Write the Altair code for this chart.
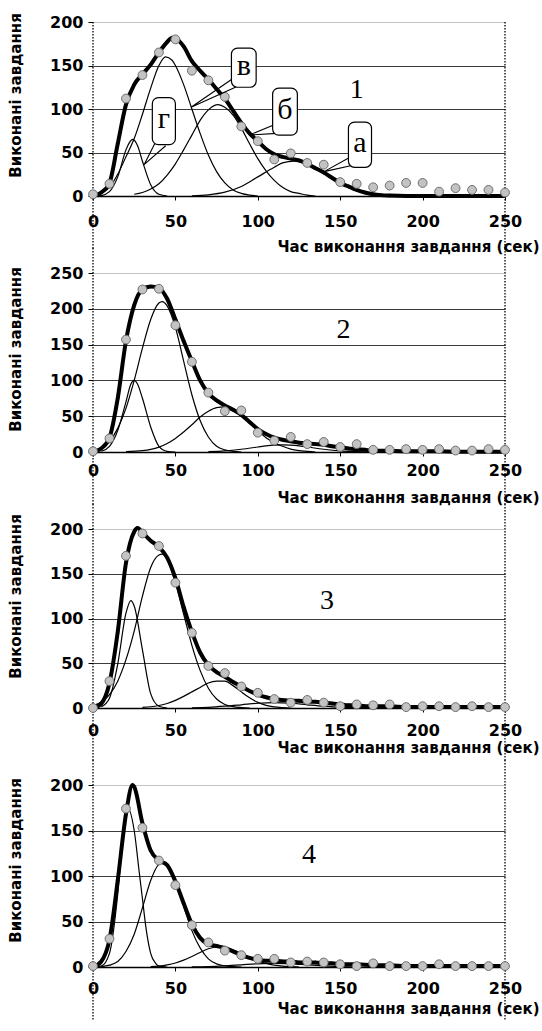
import altair as alt
import pandas as pd

# ---------------- data ----------------
X_OBS = list(range(0, 251, 10))
OBS_1 = [2, 14, 112, 139, 165, 180, 144, 133, 114, 80, 63, 42, 49, 38, 36, 16, 14, 10, 12, 15, 15, 5, 9, 7, 7, 4]
OBS_2 = [1, 19, 157, 227, 228, 177, 126, 83, 57, 58, 27, 16, 21, 11, 14, 7, 11, 3, 3, 4, 3, 4, 2, 2, 4, 3]
OBS_3 = [0, 30, 170, 195, 181, 140, 84, 47, 39, 24, 17, 10, 6, 9, 6, 2, 4, 3, 4, 1, 2, 2, 1, 2, 1, 1]
OBS_4 = [1, 31, 174, 153, 117, 90, 46, 27, 18, 13, 9, 9, 5, 6, 5, 3, 1, 4, 1, 1, 1, 3, 1, 1, 1, 1]

SUM_X_1 = [0, 5, 10, 15, 20, 25, 30, 35, 40, 45, 48, 50, 55, 60, 65, 70, 75, 80, 85, 90, 95, 100, 105, 110, 115,
           120, 125, 130, 135, 140, 145, 150, 155, 160, 165, 170, 175, 180, 190, 200, 210, 220, 230, 240, 250]
SUM_Y_1 = [0, 4, 15, 60, 105, 128, 140, 151, 165, 177, 182, 181, 172, 155, 144, 134, 123, 112, 98, 84, 72, 63, 54,
           48, 45, 43, 41, 37, 32, 27, 21, 15, 11, 7, 4, 2, 1, 0.5, 0, 0, 0, 0, 0, 0, 0]
SUM_X_2 = [0, 5, 10, 15, 20, 25, 30, 35, 40, 45, 50, 55, 60, 65, 70, 75, 80, 85, 90, 95, 100, 105, 110, 115, 120,
           125, 130, 135, 140, 145, 150, 155, 160, 165, 170, 180, 190, 200, 210, 220, 230, 240, 250]
SUM_Y_2 = [0, 5, 20, 75, 155, 205, 227, 231, 229, 214, 185, 155, 127, 100, 82, 72, 65, 59, 52, 42, 32, 25, 20, 17,
           15, 13, 12, 11, 10, 8, 7, 5, 4, 3, 2, 1.5, 1, 1, 1, 0.5, 0.5, 0.5, 0.5]
SUM_X_3 = [0, 5, 10, 15, 20, 25, 27, 30, 35, 40, 45, 50, 55, 60, 65, 70, 75, 80, 85, 90, 95, 100, 105, 110, 115,
           120, 125, 130, 135, 140, 145, 150, 155, 160, 165, 170, 180, 190, 200, 210, 220, 230, 240, 250]
SUM_Y_3 = [0, 5, 28, 85, 162, 197, 201, 196, 187, 180, 168, 145, 113, 85, 62, 48, 40, 35, 29, 24, 19, 15, 12, 10, 9,
           8, 8, 7, 7, 6, 5, 4, 3, 3, 2, 2, 2, 1, 1, 1, 1, 1, 1, 1]
SUM_X_4 = [0, 5, 10, 15, 20, 24, 25, 30, 35, 40, 45, 50, 55, 60, 65, 70, 75, 80, 85, 90, 95, 100, 105, 110, 115,
           120, 125, 130, 135, 140, 145, 150, 160, 170, 180, 190, 200, 210, 220, 230, 240, 250]
SUM_Y_4 = [0, 6, 30, 95, 168, 200, 198, 158, 128, 117, 112, 94, 70, 47, 32, 25, 23, 21, 17, 13, 10, 8, 7, 7, 6, 6,
           5, 5, 5, 4, 4, 3, 3, 2, 2, 1, 1, 1, 1, 1, 1, 1]

# component curves (а, б, в, г)
P1_G_X = [2, 5, 10, 15, 20, 22, 24, 27, 30, 35, 40, 45]
P1_G_Y = [0, 0.5, 5, 22, 53, 61, 65, 58, 40, 13, 2, 0]
P1_V_X = [5, 10, 15, 20, 25, 30, 35, 40, 44, 48, 50, 55, 60, 65, 70, 75, 80, 85, 90, 95, 100]
P1_V_Y = [3, 10, 25, 45, 66, 94, 124, 150, 160, 156, 150, 128, 100, 72, 47, 28, 15, 7, 3, 1, 0]
P1_B_X = [25, 30, 35, 40, 45, 50, 55, 60, 65, 70, 76, 80, 85, 90, 95, 100, 105, 110, 115, 120, 125, 130, 135]
P1_B_Y = [2, 4, 8, 14, 24, 37, 53, 70, 87, 99, 105, 102, 93, 78, 60, 43, 29, 18, 10, 5, 3, 1, 0]
P1_A_X = [60, 70, 80, 90, 100, 110, 115, 122, 130, 140, 150, 160, 170, 180, 190]
P1_A_Y = [0.3, 1.4, 4.4, 11, 22, 33, 38, 40, 37, 27, 15, 7, 2, 0.5, 0]

P2_G_X = [5, 10, 15, 20, 23, 25, 27, 30, 35, 40, 45, 50]
P2_G_Y = [1, 8, 30, 70, 95, 100, 95, 75, 35, 8, 1, 0]
P2_V_X = [0, 5, 10, 15, 20, 25, 30, 35, 40, 42, 45, 50, 55, 60, 65, 70, 75, 80, 85, 90]
P2_V_Y = [2, 6, 15, 33, 61, 100, 145, 185, 208, 210, 204, 174, 127, 80, 44, 21, 8, 3, 1, 0]
P2_B_X = [20, 30, 35, 40, 45, 50, 55, 60, 65, 70, 75, 80, 85, 90, 95, 100, 105, 110, 115, 120, 125, 130, 135]
P2_B_Y = [0.4, 1.8, 3.6, 6.8, 12, 19, 28, 38, 49, 57, 62, 63, 58, 50, 40, 30, 20, 13, 8, 4, 2, 1, 0]
P2_A_X = [70, 80, 90, 100, 105, 110, 115, 120, 125, 130, 140, 150, 160, 170]
P2_A_Y = [0.4, 1.5, 3.8, 7, 8.6, 9.6, 10, 9.6, 8.6, 7, 3.8, 1.5, 0.4, 0]

P3_G_X = [5, 10, 15, 20, 23, 25, 30, 35, 40, 45]
P3_G_Y = [1.3, 11, 49, 106, 120, 114, 65, 16, 2, 0]
P3_V_X = [0, 5, 10, 15, 20, 25, 30, 35, 40, 42, 45, 50, 55, 60, 65, 70, 75, 80, 85, 90, 95]
P3_V_Y = [2.6, 6.6, 15, 30, 54, 86, 125, 157, 171, 172, 166, 140, 105, 70, 42, 22, 10, 4, 1.5, 0.5, 0]
P3_B_X = [30, 35, 40, 45, 50, 55, 60, 65, 70, 75, 80, 85, 90, 95, 100, 105, 110, 115, 120]
P3_B_Y = [0.7, 1.4, 2.8, 5, 8.5, 13, 18, 23, 28, 30, 30, 25, 18, 11.5, 6.3, 3, 1.2, 0.4, 0]
P3_A_X = [60, 70, 80, 90, 100, 110, 120, 130, 140, 150, 160, 170]
P3_A_Y = [0.3, 0.8, 2, 3.6, 5.3, 6, 5.3, 3.6, 2, 0.8, 0.3, 0]

P4_G_X = [0, 5, 10, 15, 18, 21, 25, 28, 30, 32, 35, 38, 40, 45]
P4_G_Y = [0, 1, 15, 80, 140, 175, 150, 105, 75, 45, 15, 4, 1, 0]
P4_V_X = [5, 10, 15, 20, 25, 30, 35, 40, 42, 45, 50, 55, 60, 65, 70, 75, 80, 85, 90]
P4_V_Y = [0.5, 2, 6, 17, 36, 65, 95, 113, 115, 112, 94, 67, 40, 21, 9, 3.4, 1.2, 0.4, 0]
P4_B_X = [35, 40, 45, 50, 55, 60, 65, 70, 75, 80, 85, 90, 95, 100, 105, 110, 115, 120, 125]
P4_B_Y = [0.4, 1, 2.3, 4.4, 7.5, 11.6, 16, 20, 22, 21.6, 19, 15, 10.7, 6.8, 3.9, 2, 0.9, 0.4, 0]
P4_A_X = [60, 70, 80, 90, 100, 110, 120, 130, 140, 150, 160]
P4_A_Y = [0.2, 0.5, 1.3, 2.4, 3.5, 4, 3.5, 2.4, 1.3, 0.5, 0]

PANEL_NUM = ["1", "2", "3", "4"]
PANEL_NUM_X = [160, 152, 142, 131]
PANEL_NUM_Y = [122, 170, 119, 123]
Y_MAX = [200, 250, 200, 200]

CALLOUT_TEXT = ["г", "в", "б", "а"]
CALLOUT_X1 = [36, 84, 109, 155]
CALLOUT_X2 = [50, 99, 124, 169]
CALLOUT_Y1 = [59, 125, 70, 33]
CALLOUT_Y2 = [113, 170, 124, 85]
WEDGE_X = [[37.6, 31, 44.1], [85.6, 59.5, 87.4], [110, 94.7, 111.7], [156.5, 140.2, 158.4]]
WEDGE_Y = [[60.6, 36, 57.8], [136, 102, 126], [82, 70, 72], [45, 28, 35.6]]

X_EDGES = [0, 250]
X_TICKS = [0, 50, 100, 150, 200, 250]
X_TITLE = "Час виконання завдання (сек)"
Y_TITLE = "Виконані завдання"

# ---------------- layout / style ----------------
FONT = "DejaVu Sans"
SERIF = "Liberation Serif"
W = 412
HEIGHTS = [174, 179, 179, 182]
XLABEL_PAD = [13, 6, 10, 9]
XTITLE_Y = [50, 45, 39, 41]
YTITLE_Y = [73, 76, 67, 75]
EXT_TOP = [0, 25, 25, 25]
EXT_BOT = 53

OBS = [OBS_1, OBS_2, OBS_3, OBS_4]
SUMS = [(SUM_X_1, SUM_Y_1), (SUM_X_2, SUM_Y_2), (SUM_X_3, SUM_Y_3), (SUM_X_4, SUM_Y_4)]
COMPS = [
    {"а": (P1_A_X, P1_A_Y), "б": (P1_B_X, P1_B_Y), "в": (P1_V_X, P1_V_Y), "г": (P1_G_X, P1_G_Y)},
    {"а": (P2_A_X, P2_A_Y), "б": (P2_B_X, P2_B_Y), "в": (P2_V_X, P2_V_Y), "г": (P2_G_X, P2_G_Y)},
    {"а": (P3_A_X, P3_A_Y), "б": (P3_B_X, P3_B_Y), "в": (P3_V_X, P3_V_Y), "г": (P3_G_X, P3_G_Y)},
    {"а": (P4_A_X, P4_A_Y), "б": (P4_B_X, P4_B_Y), "в": (P4_V_X, P4_V_Y), "г": (P4_G_X, P4_G_Y)},
]


def make_panel(k):
    ymax = Y_MAX[k]
    h = HEIGHTS[k]
    xscale = alt.Scale(domain=[0, 250], nice=False, zero=False)
    yscale = alt.Scale(domain=[0, ymax], nice=False)
    xaxis = alt.Axis(
        values=X_TICKS, grid=False, domain=True, domainColor="black", domainWidth=1.5,
        ticks=True, tickColor="black", tickSize=4, labelFont=FONT, labelFontWeight="bold",
        labelFontSize=16, labelColor="black", labelPadding=XLABEL_PAD[k], labelFlush=False, labelOverlap=False,
        title=X_TITLE, titleFont=FONT, titleFontWeight="bold", titleFontSize=15, titleColor="black",
        titleX=446, titleY=XTITLE_Y[k], titleAlign="right", titleBaseline="middle", titleAngle=0,
    )
    yaxis = alt.Axis(
        values=list(range(0, ymax + 1, 50)), grid=True,
        gridColor={"condition": {"test": f"datum.value == {ymax}", "value": "#c4c4c4"}, "value": "#3c3c3c"},
        gridWidth=1, domain=False, ticks=True, tickColor="black", tickSize=5,
        labelFont=FONT, labelFontWeight="bold", labelFontSize=16, labelColor="black", labelPadding=5,
        title=Y_TITLE, titleFont=FONT, titleFontWeight="bold", titleFontSize=15, titleColor="black",
        titleX=-78, titleY=YTITLE_Y[k], titleAngle=270, titleAlign="center", titleBaseline="middle",
    )
    X = lambda f="x": alt.X(f"{f}:Q", scale=xscale, axis=xaxis)
    Y = lambda f="y": alt.Y(f"{f}:Q", scale=yscale, axis=yaxis)

    obs_df = pd.DataFrame({"x": X_OBS, "y": OBS[k]})
    sx, sy = SUMS[k]
    sum_df = pd.DataFrame({"x": sx, "y": sy})
    rows = []
    for name, (xs, ys) in COMPS[k].items():
        for x, y in zip(xs, ys):
            rows.append({"comp": name, "x": x, "y": y})
    comp_df = pd.DataFrame(rows)
    edge_df = pd.DataFrame({"x": X_EDGES})
    num_df = pd.DataFrame({"x": [PANEL_NUM_X[k]], "y": [PANEL_NUM_Y[k]], "t": [PANEL_NUM[k]]})

    edges = alt.Chart(edge_df).mark_rule(color="black", strokeDash=[1.5, 1.5], strokeWidth=1.3).encode(
        x=X(), y=alt.value(-EXT_TOP[k]), y2=alt.value(h + EXT_BOT))
    comps = alt.Chart(comp_df).mark_line(color="black", strokeWidth=1.2, interpolate="monotone").encode(
        x=X(), y=Y(), detail="comp:N")
    total = alt.Chart(sum_df).mark_line(color="black", strokeWidth=4, interpolate="monotone").encode(
        x=X(), y=Y())
    diamonds = alt.Chart(sum_df).mark_point(shape="diamond", filled=True, color="black", size=16, opacity=1).encode(
        x=X(), y=Y())
    circles = alt.Chart(obs_df).mark_circle(size=78, color="#c3c3c3", stroke="#6e6e6e", strokeWidth=1,
                                            opacity=1).encode(x=X(), y=Y())
    num = alt.Chart(num_df).mark_text(font=SERIF, fontSize=28, color="black", align="center",
                                      baseline="middle").encode(x=X(), y=Y(), text="t:N")
    layers = [edges, comps, total, diamonds, circles]

    if k == 0:
        wrows = []
        for lab, wx, wy in zip(CALLOUT_TEXT, WEDGE_X, WEDGE_Y):
            for i, (a, b) in enumerate(zip(wx, wy)):
                wrows.append({"lab": lab, "i": i, "x": a, "y": b})
        wedge_df = pd.DataFrame(wrows)
        box_df = pd.DataFrame({"t": CALLOUT_TEXT, "x": CALLOUT_X1, "x2": CALLOUT_X2,
                               "y": CALLOUT_Y1, "y2": CALLOUT_Y2})
        wedges = alt.Chart(wedge_df).mark_line(color="black", strokeWidth=1.1).encode(
            x=X(), y=Y(), detail="lab:N", order="i:Q")
        boxes = alt.Chart(box_df).mark_rect(fill="white", stroke="black", strokeWidth=1.2, cornerRadius=6).encode(
            x=X(), x2="x2:Q", y=Y(), y2="y2:Q")
        letters = alt.Chart(box_df).transform_calculate(
            xc="(datum.x + datum.x2) / 2", yc="(datum.y + datum.y2) / 2"
        ).mark_text(font=SERIF, fontSize=30, color="black", align="center", baseline="middle", dy=-2).encode(
            x=X("xc"), y=Y("yc"), text="t:N")
        layers += [wedges, boxes, letters]

    layers.append(num)
    return alt.layer(*layers).properties(width=W, height=h)


chart = alt.vconcat(*[make_panel(k) for k in range(4)], spacing=77, bounds="flush").properties(
    padding={"left": 8, "top": 12, "right": 0, "bottom": 0}
).configure(background="white").configure_view(stroke=None)

chart.save("out.html", embed_options={"renderer": "svg", "actions": False})
